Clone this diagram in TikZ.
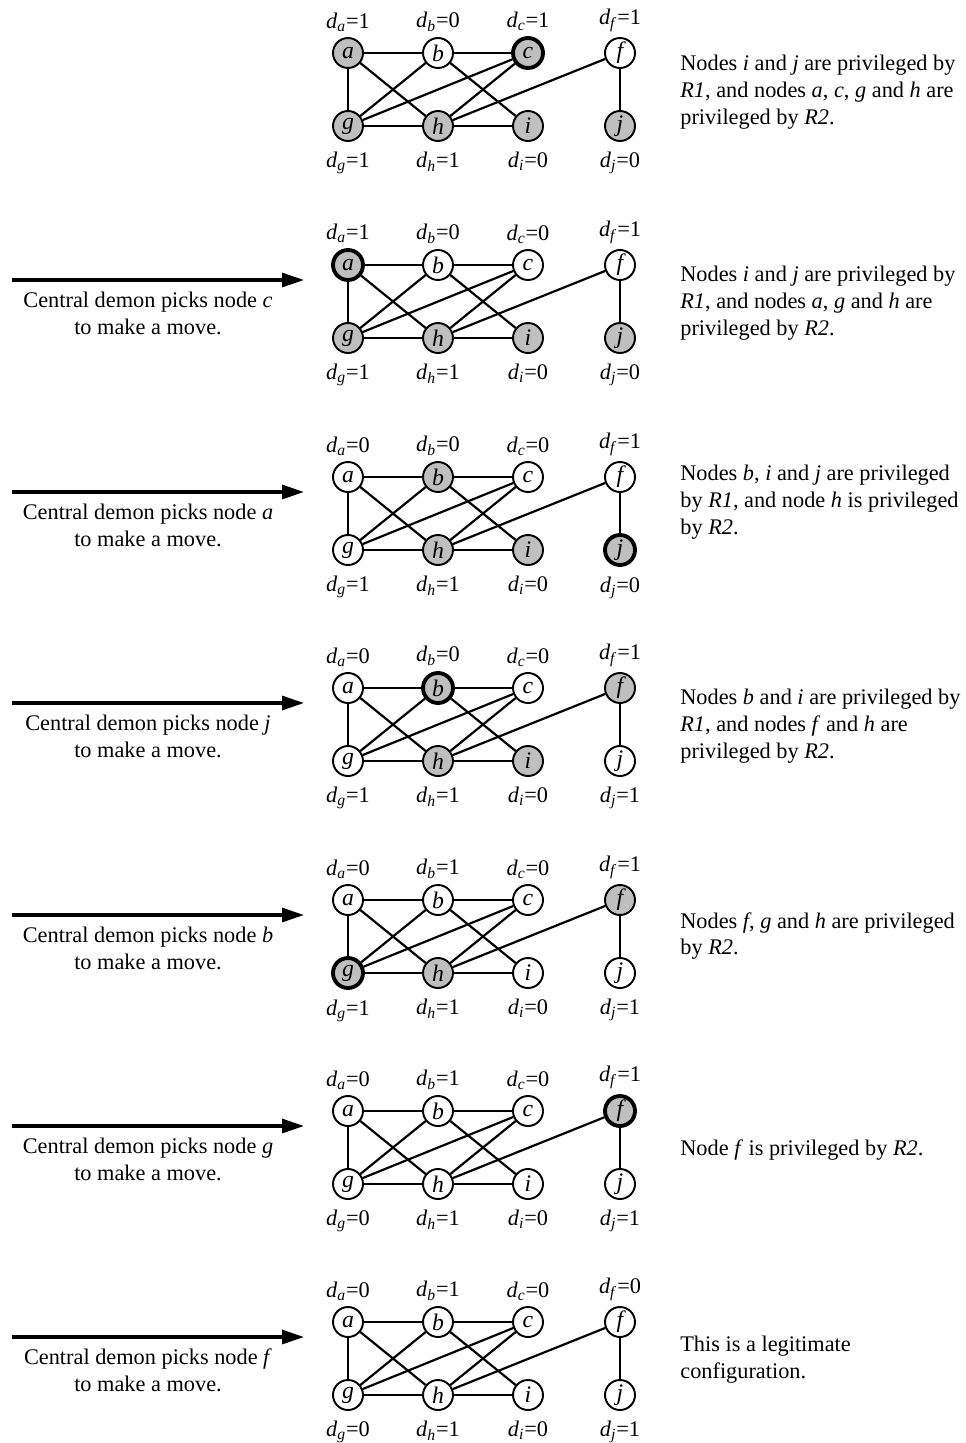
\documentclass[tikz,border=0pt]{standalone}
\usepackage{fontspec}
\setmainfont{Liberation Serif}
\usetikzlibrary{arrows.meta}

\newcommand{\dval}[2]{\textit{d}\textsubscript{\textit{#1}}=#2}
% one configuration of the graph: #1 suffix, #2 y of top row, #3 node/state/value
\newcommand{\statepanel}[3]{%
\begin{scope}[shift={(0,#2)}]
\foreach \n/\st/\dnum in {#3}
  \node[vtx,spot \n=\dnum,\st] (\n#1) {\n};
\foreach \p/\q in {a/b,b/c,a/g,a/h,b/g,b/i,c/g,c/h,f/h,f/j,g/h,h/i}
  \draw[edge] (\p#1) -- (\q#1);
\end{scope}}
\newcommand{\demonstep}[3]{%
\coordinate (from#1) at (12,#2+15);
\coordinate (to#1) at (304,#2+15);
\draw[move arrow] (from#1) -- (to#1);
\node[demon] (demon#1) at (148,#2+48) {Central demon picks node \textit{#3}\\to make a move.};}

\begin{document}
\begin{tikzpicture}[x=0.02cm,y=-0.02cm,
txt/.style={font=\fontsize{12.7}{15.3}\selectfont},
vtx/.style={draw,circle,line width=1.1pt,minimum size=0.6cm,inner sep=0pt,font=\fontsize{13.5}{15.3}\selectfont\itshape},
priv/.style={fill=gray!50},
picked/.style={fill=gray!50,line width=2.2pt},
idle/.style={fill=white},
edge/.style={line width=1.25pt},
dtop/.style={inner sep=0pt,label distance=3pt,txt},
dbot/.style={inner sep=0pt,label distance=5.5pt,txt},
spot a/.style={at={(348,0)},label={[dtop]above:\dval{a}{#1}}},
spot b/.style={at={(438,0)},label={[dtop]above:\dval{b}{#1}}},
spot c/.style={at={(528,0)},label={[dtop]above:\dval{c}{#1}}},
spot f/.style={at={(620,0)},label={[dtop]above:\dval{f}{#1}}},
spot g/.style={at={(348,73)},label={[dbot]below:\dval{g}{#1}}},
spot h/.style={at={(438,73)},label={[dbot]below:\dval{h}{#1}}},
spot i/.style={at={(528,73)},label={[dbot]below:\dval{i}{#1}}},
spot j/.style={at={(620,73)},label={[dbot]below:\dval{j}{#1}}},
move arrow/.style={line width=1.8pt,-{Triangle[length=0.44cm,width=0.28cm]}},
demon/.style={txt,align=center,inner sep=0pt},
rule/.style={txt,align=left,anchor=west,inner sep=0pt}]
\useasboundingbox (0,0) rectangle (965,1443);

\statepanel{1}{53}{a/priv/1,b/idle/0,c/picked/1,f/idle/1,g/priv/1,h/priv/1,i/priv/0,j/priv/0}
\node[rule] (rule1) at (680,92) {Nodes \textit{i} and \textit{j} are privileged by\\\textit{R1}, and nodes \textit{a}, \textit{c}, \textit{g} and \textit{h} are\\privileged by \textit{R2}.};

\statepanel{2}{265}{a/picked/1,b/idle/0,c/idle/0,f/idle/1,g/priv/1,h/priv/1,i/priv/0,j/priv/0}
\demonstep{2}{265}{c}
\node[rule] (rule2) at (680,303) {Nodes \textit{i} and \textit{j} are privileged by\\\textit{R1}, and nodes \textit{a}, \textit{g} and \textit{h} are\\privileged by \textit{R2}.};

\statepanel{3}{477}{a/idle/0,b/priv/0,c/idle/0,f/idle/1,g/idle/1,h/priv/1,i/priv/0,j/picked/0}
\demonstep{3}{477}{a}
\node[rule] (rule3) at (680,502) {Nodes \textit{b}, \textit{i} and \textit{j} are privileged\\by \textit{R1}, and node \textit{h} is privileged\\by \textit{R2}.};

\statepanel{4}{688}{a/idle/0,b/picked/0,c/idle/0,f/priv/1,g/idle/1,h/priv/1,i/priv/0,j/idle/1}
\demonstep{4}{688}{j}
\node[rule] (rule4) at (680,726) {Nodes \textit{b} and \textit{i} are privileged by\\\textit{R1}, and nodes \textit{f} and \textit{h} are\\privileged by \textit{R2}.};

\statepanel{5}{900}{a/idle/0,b/idle/1,c/idle/0,f/priv/1,g/picked/1,h/priv/1,i/idle/0,j/idle/1}
\demonstep{5}{900}{b}
\node[rule] (rule5) at (680,936) {Nodes \textit{f}, \textit{g} and \textit{h} are privileged\\by \textit{R2}.};

\statepanel{6}{1111}{a/idle/0,b/idle/1,c/idle/0,f/picked/1,g/idle/0,h/idle/1,i/idle/0,j/idle/1}
\demonstep{6}{1111}{g}
\node[rule] (rule6) at (680,1150) {Node \textit{f} is privileged by \textit{R2}.};

\statepanel{7}{1322}{a/idle/0,b/idle/1,c/idle/0,f/idle/0,g/idle/0,h/idle/1,i/idle/0,j/idle/1}
\demonstep{7}{1322}{f}
\node[rule] (rule7) at (680,1360) {This is a legitimate\\configuration.};
\end{tikzpicture}
\end{document}
